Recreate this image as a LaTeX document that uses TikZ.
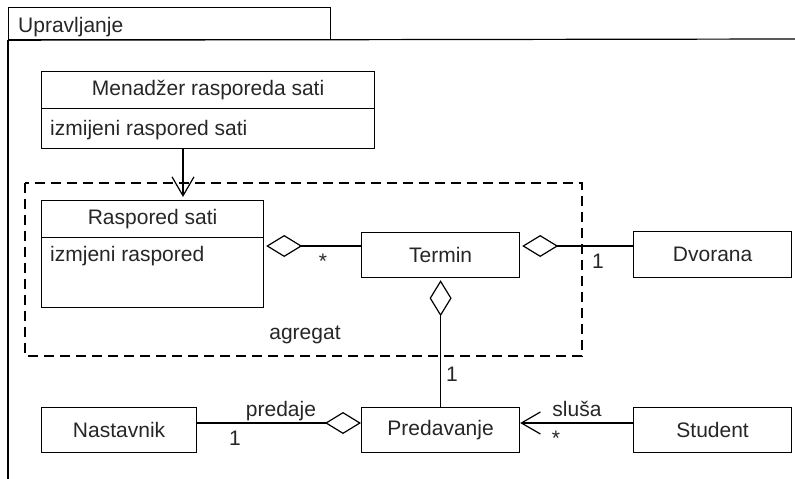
\documentclass[tikz,border=0pt]{standalone}
\usepackage{fontspec}
\setmainfont{Liberation Sans}
\usetikzlibrary{arrows.meta,calc}
\begin{document}
\begin{tikzpicture}[x=1pt,y=-1pt,
  every node/.style={font=\fontsize{21}{25}\selectfont, text=black!85},
  box/.style={draw, line width=1.2pt, inner sep=0pt, anchor=north west},
  ln/.style={line width=1.2pt},
  agg/.style={ln, {Diamond[open,length=36pt,width=22pt,line width=1.2pt]}-},
  nav/.style={ln, -{Straight Barb[length=19pt,width=22pt,line width=1.2pt]}},
  lbl/.style={anchor=base, inner sep=0pt}]
\useasboundingbox (0,0) rectangle (795,479);
% frame
\node[box, minimum width=322, minimum height=32] (tab) at (8,7) {};
\node[lbl, anchor=base west] (tabT) at (18,32) {Upravljanje};
\coordinate (frR) at (795,39);
\coordinate (frB) at (8,479);
\draw[ln] (tab.south west) -- (frR);
\draw[ln] (tab.south west) -- (frB);
% aggregate boundary
\draw[ln, dash pattern=on 10pt off 6pt] (25,183) rectangle (582,356);
\node[lbl] (agregat) at (305,339) {agregat};
% classes
\node[box, minimum width=333, minimum height=37] (menH) at (41,71) {Menadžer rasporeda sati};
\node[box, minimum width=333, minimum height=40] (menB) at (41,108) {};
\node[lbl, anchor=base west] (menOp) at (50,135) {izmijeni raspored sati};
\node[box, minimum width=222, minimum height=37] (rasH) at (41,200) {Raspored sati};
\node[box, minimum width=222, minimum height=70] (rasB) at (41,237) {};
\node[lbl, anchor=base west] (rasOp) at (50,261) {izmjeni raspored};
\node[box, minimum width=158, minimum height=45] (termin) at (361,232) {Termin};
\node[box, minimum width=158, minimum height=46] (dvorana) at (633,231) {Dvorana};
\node[box, minimum width=155, minimum height=45] (nastavnik) at (41,407) {Nastavnik};
\node[box, minimum width=158, minimum height=45] (predavanje) at (361,407) {Predavanje};
\node[box, minimum width=158, minimum height=45] (student) at (633,407) {Student};
% connectors
\draw[nav] ($(menB.south west)+(142,0)$) -- ($(rasH.north west)+(142,-3)$);
\draw[agg] ($(rasH.north east)+(2,46)$) -- ($(termin.north west)+(0,14)$);
\draw[agg] ($(termin.north east)+(2,14)$) -- ($(dvorana.north west)+(0,15)$);
\draw[agg] ($(termin.south)+(0,2)$) -- (predavanje.north);
\draw[agg] ($(predavanje.north west)+(0,16)$) -- ($(nastavnik.north east)+(0,16)$);
\draw[nav] ($(student.north west)+(0,16)$) -- ($(predavanje.north east)+(0,16)$);
% multiplicities and labels
\node[lbl] (m1) at (323,268) {*};
\node[lbl] (m2) at (598,268) {1};
\node[lbl] (m3) at (452,381) {1};
\node[lbl] (predaje) at (281,416) {predaje};
\node[lbl] (m4) at (235,445) {1};
\node[lbl] (slusa) at (577,416) {sluša};
\node[lbl] (m5) at (556,445) {*};
\end{tikzpicture}
\end{document}
